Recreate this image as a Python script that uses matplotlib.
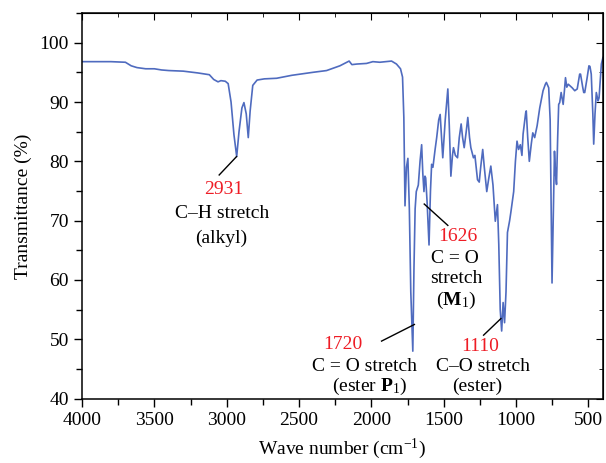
import matplotlib
matplotlib.use("Agg")
import matplotlib.pyplot as plt
from matplotlib.ticker import MultipleLocator

plt.rcParams["font.family"] = ["Liberation Serif", "DejaVu Serif"]
plt.rcParams["mathtext.fontset"] = "custom"
plt.rcParams["mathtext.rm"] = "Liberation Serif"
plt.rcParams["mathtext.bf"] = "Liberation Serif:bold"
plt.rcParams["mathtext.it"] = "Liberation Serif:italic"

# Spectre FTIR (nombre d'onde en cm-1, transmittance en %)
wavenumber = [
    4000, 3800, 3700, 3660, 3620, 3560, 3500, 3450, 3400, 3300, 3200, 3120,
    3090, 3060, 3040, 3010, 2990, 2970, 2950, 2931, 2915, 2895, 2881, 2865,
    2851, 2838, 2820, 2790, 2740, 2655, 2550, 2405, 2310, 2218, 2170, 2154,
    2135, 2100, 2034, 1990, 1942, 1861, 1827, 1799, 1785, 1776, 1768, 1758,
    1748, 1738, 1728, 1714, 1706, 1698, 1690, 1676, 1664, 1653, 1645, 1637,
    1630, 1625, 1615, 1602, 1592, 1584, 1575, 1560, 1549, 1535, 1525, 1515,
    1507, 1490, 1472, 1462, 1451, 1440, 1433, 1420, 1405, 1393, 1380, 1370,
    1359, 1345, 1334, 1322, 1313, 1295, 1285, 1267, 1255, 1245, 1231, 1220,
    1203, 1190, 1175, 1160, 1144, 1129, 1120, 1110, 1100, 1090, 1080, 1070,
    1060, 1045, 1036, 1017, 1005, 994, 983, 971, 960, 952, 934, 930, 920,
    909, 895, 885, 872, 855, 837, 814, 798, 791, 775, 765, 752, 742, 735,
    728, 721, 713, 706, 699, 689, 675, 666, 659, 650, 640, 613, 595, 578,
    561, 555, 540, 533, 526, 510, 497, 490, 481, 470, 464, 455, 446, 434,
    427, 418, 411, 400,
]
transmittance = [
    96.8, 96.8, 96.7, 96.1, 95.8, 95.6, 95.6, 95.4, 95.3, 95.2, 94.9, 94.6,
    93.8, 93.4, 93.6, 93.5, 93.1, 90.0, 84.5, 80.8, 85.0, 89.0, 89.9, 88.0,
    84.0, 88.5, 92.8, 93.7, 93.9, 94.0, 94.5, 95.0, 95.3, 96.1, 96.7, 96.9,
    96.3, 96.4, 96.5, 96.8, 96.7, 96.9, 96.4, 95.6, 94.2, 87.4, 72.5, 79.0,
    80.5, 72.0, 58.0, 48.0, 62.0, 72.0, 74.9, 76.0, 80.0, 82.8, 78.0, 74.9,
    77.5, 77.2, 73.0, 65.9, 75.0, 79.5, 79.0, 82.0, 84.0, 87.0, 87.9, 84.0,
    80.6, 87.0, 92.2, 86.0, 77.5, 81.0, 82.3, 81.0, 80.6, 84.0, 86.3, 84.0,
    82.3, 85.0, 87.4, 84.0, 82.3, 80.6, 81.0, 76.9, 76.5, 79.0, 82.0, 79.0,
    74.9, 77.0, 79.2, 76.0, 69.9, 72.7, 66.0, 55.0, 51.4, 56.2, 52.8, 58.0,
    68.0, 70.0, 71.5, 74.9, 80.0, 83.4, 82.0, 82.8, 81.0, 84.6, 88.2, 88.5, 84.0,
    80.0, 83.0, 84.8, 84.0, 86.0, 89.0, 91.9, 93.0, 93.3, 92.4, 87.0, 59.5, 72.0, 81.7,
    78.0, 76.1, 84.0, 89.6, 89.9, 91.6, 89.6, 92.0, 94.1, 92.5, 93.0, 92.4, 91.9, 92.2,
    94.7, 94.7, 92.5, 91.6, 91.6, 94.0, 96.1, 96.0, 94.7, 88.0, 82.9, 88.0, 91.6, 90.2,
    90.7, 94.0, 96.4, 97.5,
]

fig = plt.figure(figsize=(6.06, 4.63), dpi=100)
ax = fig.add_axes([0.1353, 0.139, 0.8597, 0.8329])

ax.plot(wavenumber, transmittance, color="#4f6bbf", lw=1.2)

ax.set_xlim(4000, 400)
ax.set_ylim(40, 105)
ax.xaxis.set_major_locator(MultipleLocator(500))
ax.xaxis.set_minor_locator(MultipleLocator(250))
ax.yaxis.set_major_locator(MultipleLocator(10))
ax.yaxis.set_minor_locator(MultipleLocator(5))
ax.tick_params(which="major", direction="out", length=6, width=1, labelsize=14)
ax.tick_params(which="minor", direction="out", length=4, width=1)
for s in ax.spines.values():
    s.set_linewidth(1.1)

# Graduations internes en haut et à droite
top = ax.secondary_xaxis("top")
top.xaxis.set_major_locator(MultipleLocator(500))
top.xaxis.set_minor_locator(MultipleLocator(250))
top.tick_params(which="major", direction="in", length=5, labeltop=False)
top.tick_params(which="minor", direction="in", length=3)
right = ax.secondary_yaxis("right")
right.yaxis.set_major_locator(MultipleLocator(10))
right.yaxis.set_minor_locator(MultipleLocator(5))
right.tick_params(which="major", direction="in", length=5, labelright=False)
right.tick_params(which="minor", direction="in", length=3)

ax.set_xlabel("Wave number (cm$^{-1}$)", fontsize=14, labelpad=6)
ax.set_ylabel("Transmittance (%)", fontsize=14, labelpad=5)

red = "#ee1c25"
fs = 14
line_kw = dict(color="black", lw=1)

# 2931
ax.plot([3052, 2932], [77.7, 80.8], **line_kw)
ax.text(3019, 75.2, "2931", color=red, fontsize=fs, ha="center", va="center")
ax.text(3035, 71.2, "C–H stretch", fontsize=fs, ha="center", va="center")
ax.text(3040, 67.1, "(alkyl)", fontsize=fs, ha="center", va="center")

# 1720
ax.plot([1930, 1703], [49.7, 52.5], **line_kw)
ax.text(2198, 49.1, "1720", color=red, fontsize=fs, ha="center", va="center")
ax.text(2046, 45.5, "C = O stretch", fontsize=fs, ha="center", va="center")
ax.text(2011, 42.0, r"(ester $\mathbf{P}_{\mathrm{1}}$)", fontsize=fs,
        ha="center", va="center")

# 1626
ax.plot([1635, 1472], [72.8, 69.2], **line_kw)
ax.text(1405, 67.3, "1626", color=red, fontsize=fs, ha="center", va="center")
ax.text(1424, 63.7, "C = O", fontsize=fs, ha="center", va="center")
ax.text(1410, 60.2, "stretch", fontsize=fs, ha="center", va="center")
ax.text(1417, 56.5, r"($\mathbf{M}_{\mathrm{1}}$)", fontsize=fs,
        ha="center", va="center")

# 1110
ax.plot([1225, 1105], [50.7, 53.5], **line_kw)
ax.text(1249, 48.8, "1110", color=red, fontsize=fs, ha="center", va="center")
ax.text(1231, 45.5, "C–O stretch", fontsize=fs, ha="center", va="center")
ax.text(1272, 42.0, "(ester)", fontsize=fs, ha="center", va="center")

fig.savefig("out.png", dpi=100)
